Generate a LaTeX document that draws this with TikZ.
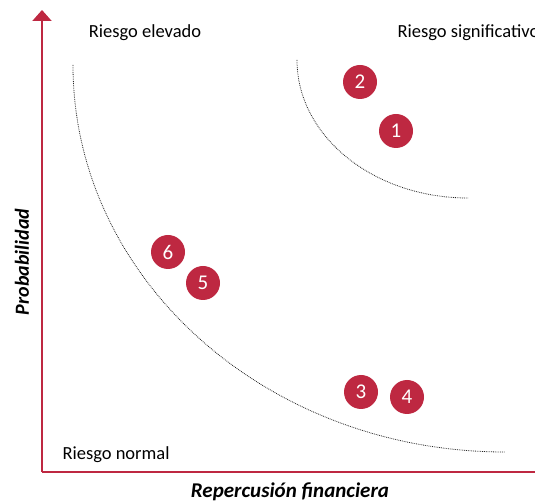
\documentclass[tikz,border=0pt]{standalone}
\usepackage{fontspec}
\setmainfont{Carlito}
\usetikzlibrary{arrows.meta}
\definecolor{rojo}{RGB}{190,40,65}
\tikzset{
	riesgo/.style={circle, fill=rojo, text=white, minimum size=34pt, inner sep=0pt, font=\fontsize{21}{24}\selectfont},
	zona/.style={font=\fontsize{18.5}{22}\selectfont},
	eje/.style={rojo, line width=2pt},
	limite/.style={densely dotted, line width=0.8pt, black!85}
}
\begin{document}
\begin{tikzpicture}[x=1pt, y=1pt]
	\useasboundingbox (0,0) rectangle (535,503);
	\clip (0,0) rectangle (535,503);
	% Ejes
	\coordinate (origen) at (42,31);
	\coordinate (arriba) at (42,493);
	\coordinate (derecha) at (545,31);
	\draw[eje, -{Triangle[width=19pt, length=11pt]}] (origen) -- (arriba);
	\draw[eje] (origen) -- (derecha);
	\node (probabilidad) at (22,241) [rotate=90, font=\fontsize{20}{24}\selectfont\bfseries\itshape] {Probabilidad};
	\node (repercusion) at (290,11) [font=\fontsize{21}{25}\selectfont\bfseries\itshape] {Repercusión financiera};
	% Zonas
	\node (elevado) at (145,470) [zona] {Riesgo elevado};
	\node (significativo) at (394,470) [zona, anchor=west] {Riesgo significativo};
	\node (normal) at (59,48) [zona, anchor=west] {Riesgo normal};
	% Limites
	\draw[limite] (73,438) arc[start angle=180, end angle=270, x radius=432, y radius=387];
	\draw[limite] (297,443) arc[start angle=180, end angle=270, x radius=171, y radius=138];
	% Riesgos
	\node (r1) at (396,372) [riesgo] {1};
	\node (r2) at (360,421) [riesgo] {2};
	\node (r3) at (361,111) [riesgo] {3};
	\node (r4) at (407,106) [riesgo] {4};
	\node (r5) at (203,220) [riesgo] {5};
	\node (r6) at (168,251) [riesgo] {6};
\end{tikzpicture}
\end{document}
